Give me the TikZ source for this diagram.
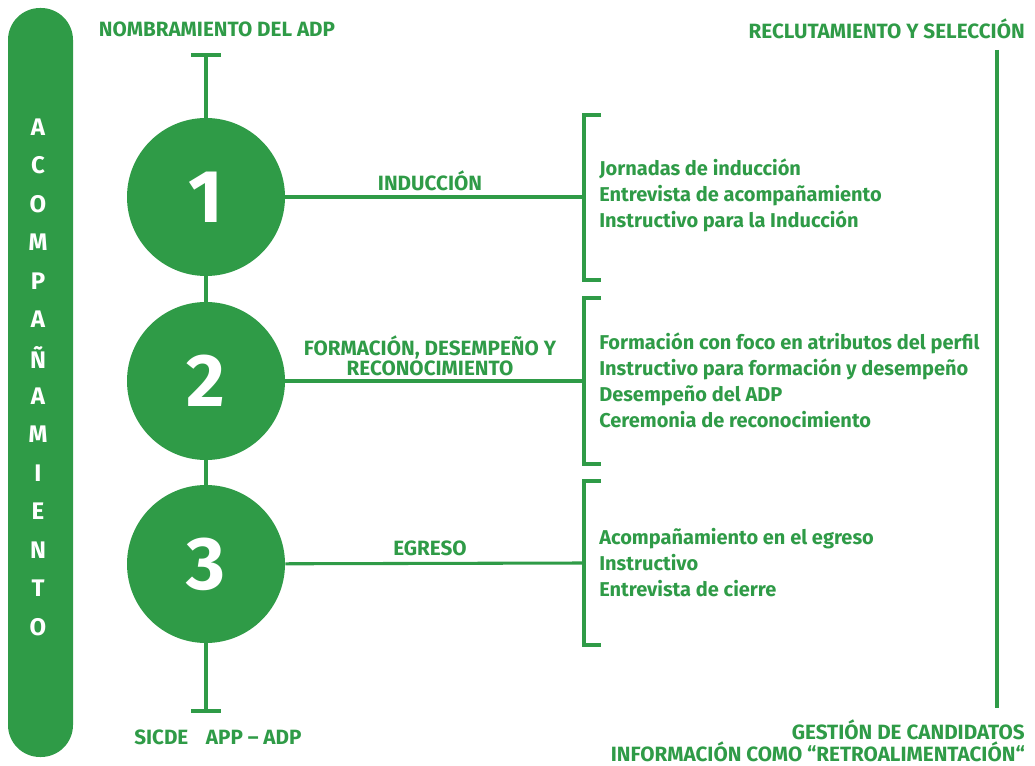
\documentclass[tikz,border=0pt]{standalone}
\usepackage{fontspec}
\setmainfont{Fira Sans}
\usetikzlibrary{positioning}

\definecolor{verde}{RGB}{47,155,71}

\tikzset{
  linea/.style={draw=verde,line width=2.3pt},
  etapa/.style={circle,fill=verde,text=white,minimum size=118.5pt,inner sep=0pt,
    font=\fontsize{56}{56}\selectfont\bfseries},
  titulo/.style={text=verde,inner sep=0pt,font=\fontsize{15.5}{16}\selectfont\bfseries},
  rotulo/.style={text=verde,inner sep=0pt,align=center,font=\fontsize{15.5}{15}\selectfont\bfseries},
  lista/.style={text=verde,inner sep=0pt,anchor=west,align=left,
    font=\fontsize{15}{19.5}\selectfont\bfseries},
  letra/.style={text=white,font=\fontsize{18}{18}\selectfont\bfseries}
}

\begin{document}
\begin{tikzpicture}[x=0.75pt,y=-0.75pt]
\useasboundingbox (0,0) rectangle (1035,766);

% barra lateral
\node[fill=verde,rounded corners=24pt,minimum width=48.75pt,minimum height=561.75pt,inner sep=0pt] (barra) at (40.5,382.5) {};
\foreach \l [count=\i from 0] in {A,C,O,M,P,A,Ñ,A,M,I,E,N,T,O}
  \node[letra] (l\i) at (38,127+38.46*\i) {\l};

% titulos
\node[titulo] (nombramiento) at (217,29) {NOMBRAMIENTO DEL ADP};
\node[titulo,anchor=east] (reclutamiento) at (1025,29) {RECLUTAMIENTO Y SELECCIÓN};
\node[titulo,anchor=west] (sicde) at (134,737) {SICDE\hspace{0.85em}APP – ADP};
\node[titulo,anchor=east,align=right,font=\fontsize{15.5}{13.5}\selectfont\bfseries] (gestion) at (1025,741)
  {GESTIÓN DE CANDIDATOS\\INFORMACIÓN COMO “RETROALIMENTACIÓN“};

% eje vertical
\coordinate (arriba) at (206,55);
\coordinate (abajo) at (206,711);
\draw[linea] (arriba) -- (abajo);
\draw[linea] ([xshift=-11pt]arriba) -- ([xshift=11pt]arriba);
\draw[linea] ([xshift=-11pt]abajo) -- ([xshift=11pt]abajo);

% linea derecha
\coordinate (der1) at (997,50);
\coordinate (der2) at (997,708);
\draw[linea] (der1) -- (der2);

% etapas
\node[etapa] (e1) at (206,197) {1};
\node[etapa] (e2) at (206,381) {2};
\node[etapa] (e3) at (206,564) {3};

% llaves
\coordinate (k1) at (584,197);
\coordinate (k2) at (584,381);
\coordinate (k3) at (584,563);
\draw[linea] (601,115) -| (584,280) -- (601,280);
\draw[linea] (601,298) -| (584,464) -- (601,464);
\draw[linea] (601,481) -| (584,645) -- (601,645);

\draw[linea] (e1) -- (k1);
\draw[linea] (e2) -- (k2);
\draw[linea] (e3) -- (k3);

\node[rotulo] (induccion) at (430,181) {INDUCCIÓN};
\node[rotulo] (formacion) at (430,356) {FORMACIÓN, DESEMPEÑO Y\\RECONOCIMIENTO};
\node[rotulo] (egreso) at (430,548) {EGRESO};

% actividades
\node[lista] (a1) at (599,195) {Jornadas de inducción\\Entrevista de acompañamiento\\Instructivo para la Inducción};
\node[lista] (a2) at (599,380) {Formación con foco en atributos del perfil\\Instructivo para formación y desempeño\\Desempeño del ADP\\Ceremonia de reconocimiento};
\node[lista] (a3) at (599,563) {Acompañamiento en el egreso\\Instructivo\\Entrevista de cierre};

\end{tikzpicture}
\end{document}
